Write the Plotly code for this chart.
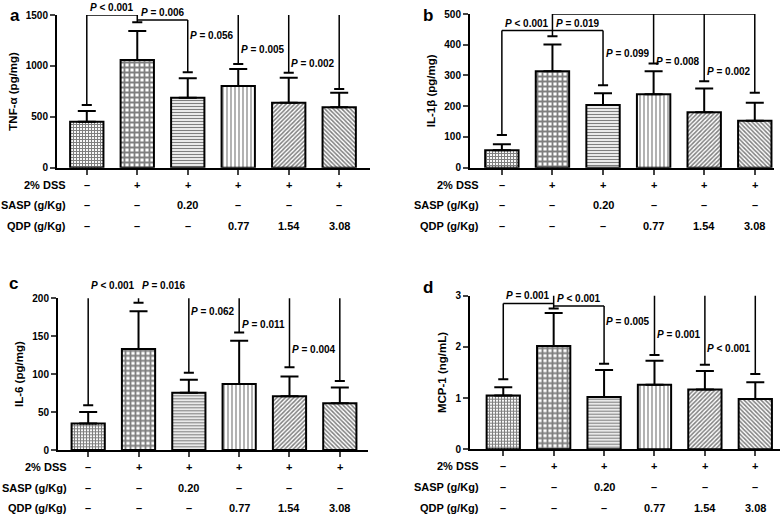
import plotly.graph_objects as go

# ---- treatment table (rows under every panel) ----
row_labels = ["2% DSS", "SASP (g/Kg)", "QDP (g/Kg)"]
dss_row = ["–", "+", "+", "+", "+", "+"]
sasp_row = ["–", "–", "0.20", "–", "–", "–"]
qdp_row = ["–", "–", "–", "0.77", "1.54", "3.08"]

# ---- a: TNF-alpha ----
tnf_mean = [452, 1058, 688, 802, 638, 593]
tnf_sd = [105, 285, 190, 167, 246, 144]
tnf_tip = [615, 1428, 937, 1018, 933, 773]        # bracket ends above each bar
tnf_lines = [1500, 1450, 1621]                    # ctrl-vs-DSS, DSS-vs-SASP, DSS-vs-QDP
tnf_p = ["< 0.001", "= 0.006", "= 0.056", "= 0.005", "= 0.002"]

# ---- b: IL-1beta ----
il1_mean = [57, 314, 204, 239, 180, 153]
il1_sd = [19, 87, 38, 75, 78, 58]
il1_tip = [106, 428, 268, 339, 281, 244]
il1_lines = [446, 446, 500]
il1_p = ["< 0.001", "= 0.019", "= 0.099", "= 0.008", "= 0.002"]

# ---- c: IL-6 ----
il6_mean = [35, 133, 75.6, 87, 71, 61.5]
il6_sd = [15, 50, 17, 57, 26, 21]
il6_tip = [59, 194, 102, 155, 109, 91]
il6_lines = [206.6, 206.6, 234]
il6_p = ["< 0.001", "= 0.016", "= 0.062", "= 0.011", "= 0.004"]

# ---- d: MCP-1 ----
mcp_mean = [1.05, 2.02, 1.02, 1.26, 1.17, 0.98]
mcp_sd = [0.16, 0.64, 0.53, 0.47, 0.36, 0.33]
mcp_tip = [1.37, 2.75, 1.67, 1.84, 1.65, 1.47]
mcp_lines = [2.85, 2.80, 3.155]
mcp_p = ["= 0.001", "< 0.001", "= 0.005", "= 0.001", "< 0.001"]

W, H = 784, 519
FONT = "Liberation Sans"

# layout per panel (pixel boxes of the plot areas, label heights)
panels = [
    dict(letter="a", title="TNF-α (pg/mg)", mean=tnf_mean, sd=tnf_sd, tip=tnf_tip,
         lines=tnf_lines, p=tnf_p, ymax=1500, dtick=500,
         box=(57, 370, 15, 167.7), xr=(-0.59, 5.61), plab=[1294, 1166, 1019],
         letter_xy=(15, 16)),
    dict(letter="b", title="IL-1β (pg/mg)", mean=il1_mean, sd=il1_sd, tip=il1_tip,
         lines=il1_lines, p=il1_p, ymax=500, dtick=100,
         box=(470, 774, 14, 167.7), xr=(-0.63, 5.38), plab=[372, 345, 312],
         letter_xy=(428, 16)),
    dict(letter="c", title="IL-6 (pg/mg)", mean=il6_mean, sd=il6_sd, tip=il6_tip,
         lines=il6_lines, p=il6_p, ymax=200, dtick=50,
         box=(58, 368, 298.3, 450), xr=(-0.6, 5.56), plab=[182, 165, 132],
         letter_xy=(13, 283)),
    dict(letter="d", title="MCP-1 (ng/mL)", mean=mcp_mean, sd=mcp_sd, tip=mcp_tip,
         lines=mcp_lines, p=mcp_p, ymax=3, dtick=1,
         box=(470, 780, 295.7, 449.3), xr=(-0.66, 5.49), plab=[2.49, 2.25, 1.96],
         letter_xy=(428, 287)),
]

pat_shape = ["+", "+", "-", "|", "/", "\\"]
pat_size = [3, 5, 3, 4, 3, 3]
pat_solid = [0.6, 0.6, 0.45, 0.3, 0.5, 0.5]

fig = go.Figure()
annotations = []
layout_axes = {}

for k, pn in enumerate(panels):
    sfx = "" if k == 0 else str(k + 1)
    xa, ya = "x" + sfx, "y" + sfx
    xs = list(range(6))
    x0, x1, y0, y1 = pn["box"]
    ymax = pn["ymax"]

    fig.add_trace(go.Bar(
        x=xs, y=pn["mean"], width=0.66, xaxis=xa, yaxis=ya, showlegend=False,
        marker=dict(color="white", line=dict(color="black", width=2),
                    pattern=dict(shape=pat_shape, size=pat_size, solidity=pat_solid,
                                 fgcolor="black", bgcolor="white", fillmode="overlay")),
        error_y=dict(type="data", symmetric=False, array=pn["sd"],
                     arrayminus=[0] * 6, color="black", thickness=2, width=9),
    ))

    # significance brackets
    tip, ln = pn["tip"], pn["lines"]
    bx, by = [], []
    segs = [
        ((0, ln[0]), (0, tip[0])),
        ((0, ln[0]), (1, ln[0])),
        ((1, ln[2]), (1, tip[1])),
        ((1, ln[1]), (2, ln[1])),
        ((2, ln[1]), (2, tip[2])),
        ((1, ln[2]), (5, ln[2])),
    ] + [((i, ln[2]), (i, tip[i])) for i in (3, 4, 5)]
    for (a, b) in segs:
        bx += [a[0], b[0], None]
        by += [a[1], b[1], None]
    fig.add_trace(go.Scatter(x=bx, y=by, mode="lines", xaxis=xa, yaxis=ya,
                             line=dict(color="black", width=1.5), cliponaxis=False,
                             showlegend=False, hoverinfo="skip"))
    cx, cy = [], []
    for i in xs:
        cx += [i - 0.1, i + 0.1, None]
        cy += [tip[i], tip[i], None]
    fig.add_trace(go.Scatter(x=cx, y=cy, mode="lines", xaxis=xa, yaxis=ya,
                             line=dict(color="black", width=2), cliponaxis=False,
                             showlegend=False, hoverinfo="skip"))

    pfont = dict(family=FONT, size=10, color="black", weight="bold")
    ptxt = ["<i>P</i> " + s.replace("<", "&lt;") for s in pn["p"]]
    yd = ya + " domain"
    annotations.append(dict(x=0.5, y=ln[0] / ymax, xref=xa, yref=yd, text=ptxt[0],
                            showarrow=False, yanchor="bottom", font=pfont))
    annotations.append(dict(x=1.5, y=ln[1] / ymax, xref=xa, yref=yd, text=ptxt[1],
                            showarrow=False, yanchor="bottom", font=pfont))
    for j, i in enumerate((3, 4, 5)):
        annotations.append(dict(x=i, y=pn["plab"][j] / ymax, xref=xa, yref=yd,
                                text=ptxt[j + 2], showarrow=False, xanchor="right",
                                yanchor="middle", xshift=-2, font=pfont))

    # treatment table
    tfont = dict(family=FONT, size=11, color="black", weight="bold")
    for r, (lab, row) in enumerate(zip(row_labels, [dss_row, sasp_row, qdp_row])):
        ypix = y1 + 17 + r * 20.7
        annotations.append(dict(x=(x0 + 11) / W, y=1 - ypix / H, xref="paper", yref="paper",
                                text=lab, showarrow=False, xanchor="right",
                                yanchor="middle", font=tfont))
        for i in xs:
            annotations.append(dict(x=i, y=1 - ypix / H, xref=xa, yref="paper",
                                    text=row[i], showarrow=False, xanchor="center",
                                    yanchor="middle", font=tfont))

    annotations.append(dict(x=pn["letter_xy"][0] / W, y=1 - pn["letter_xy"][1] / H,
                            xref="paper", yref="paper", text=pn["letter"], showarrow=False,
                            xanchor="center", yanchor="middle",
                            font=dict(family=FONT, size=17, color="black", weight="bold")))

    layout_axes["xaxis" + sfx] = dict(
        domain=[x0 / W, x1 / W], range=list(pn["xr"]), anchor=ya,
        tickvals=xs, showticklabels=False, ticks="outside", ticklen=5, tickwidth=2,
        showline=True, linewidth=2, linecolor="black", showgrid=False, zeroline=False,
        automargin=False, fixedrange=True)
    layout_axes["yaxis" + sfx] = dict(
        domain=[1 - y1 / H, 1 - y0 / H], range=[0, ymax], anchor=xa,
        dtick=pn["dtick"], tick0=0, ticks="outside", ticklen=5, tickwidth=2,
        showline=True, linewidth=2, linecolor="black", showgrid=False, zeroline=False,
        tickfont=dict(family=FONT, size=10, color="black", weight="bold"),
        title=dict(text=pn["title"], standoff=6,
                   font=dict(family=FONT, size=11.5, color="black", weight="bold")),
        automargin=False, fixedrange=True)

fig.update_layout(
    width=W, height=H, template="none", margin=dict(l=0, r=0, t=0, b=0),
    paper_bgcolor="white", plot_bgcolor="white", bargap=0.3,
    font=dict(family=FONT, color="black"), annotations=annotations, **layout_axes)

fig.write_html("out.html", config={"displayModeBar": False},
               post_script="document.body.style.margin='0';document.body.style.overflow='hidden';")
